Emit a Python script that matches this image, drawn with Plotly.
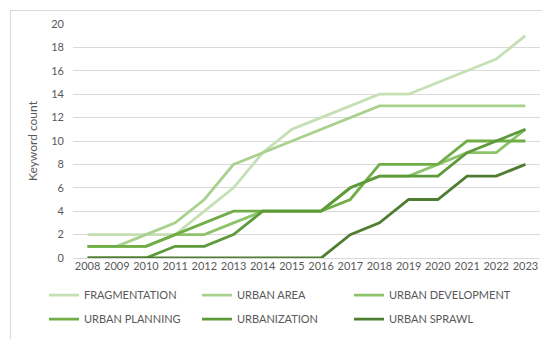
import plotly.graph_objects as go

years = [str(y) for y in range(2008, 2024)]
fragmentation = [2, 2, 2, 2, 4, 6, 9, 11, 12, 13, 14, 14, 15, 16, 17, 19]
urban_area = [1, 1, 2, 3, 5, 8, 9, 10, 11, 12, 13, 13, 13, 13, 13, 13]
urban_development = [1, 1, 1, 2, 2, 3, 4, 4, 4, 6, 7, 7, 8, 9, 9, 11]
urban_planning = [1, 1, 1, 2, 3, 4, 4, 4, 4, 5, 8, 8, 8, 10, 10, 10]
urbanization = [0, 0, 0, 1, 1, 2, 4, 4, 4, 6, 7, 7, 7, 9, 10, 11]
urban_sprawl = [0, 0, 0, 0, 0, 0, 0, 0, 0, 2, 3, 5, 5, 7, 7, 8]

series = [
    ("FRAGMENTATION", fragmentation, "#C5E0B4", "legend"),
    ("URBAN AREA", urban_area, "#A9D18E", "legend2"),
    ("URBAN DEVELOPMENT", urban_development, "#8DC46A", "legend3"),
    ("URBAN PLANNING", urban_planning, "#70AD47", "legend"),
    ("URBANIZATION", urbanization, "#5E9A3A", "legend2"),
    ("URBAN SPRAWL", urban_sprawl, "#4E7D31", "legend3"),
]

FONT = "Lato, 'Open Sans', sans-serif"
TXT = "#595959"

fig = go.Figure()
for name, vals, col, leg in series:
    fig.add_trace(go.Scatter(
        x=years, y=vals, name=name, mode="lines",
        line=dict(color=col, width=2.8),
        legend=leg, legendgroup=name,
    ))


def leg_cfg(xpx):
    return dict(
        orientation="v", xref="container", yref="container",
        x=xpx / 550, y=0.196, xanchor="left", yanchor="top",
        font=dict(size=11, color=TXT), tracegroupgap=5,
        bgcolor="rgba(0,0,0,0)", traceorder="grouped",
    )


fig.update_layout(
    width=550, height=339,
    margin=dict(l=65, r=18, t=16, b=89, autoexpand=False),
    paper_bgcolor="white", plot_bgcolor="white",
    font=dict(family=FONT, size=11, color=TXT),
    xaxis=dict(
        type="category", range=[-0.5, 15.5], showgrid=False,
        showline=False, ticks="", tickfont=dict(size=11, color=TXT),
        zeroline=False, automargin=False,
    ),
    yaxis=dict(
        range=[0, 20], dtick=2, showgrid=True, gridcolor="#D9D9D9",
        gridwidth=1, zeroline=True, zerolinecolor="#D9D9D9", zerolinewidth=1,
        showline=False, ticks="", ticklabelstandoff=8, automargin=False,
        tickfont=dict(size=11, color=TXT),
    ),
    annotations=[dict(
        text="Keyword count", xref="paper", yref="paper",
        x=(24 - 65) / 467, y=0.5, textangle=-90, showarrow=False,
        xanchor="center", yanchor="middle",
        font=dict(size=12, color=TXT),
    )],
    legend=leg_cfg(36),
    legend2=leg_cfg(189),
    legend3=leg_cfg(341),
    showlegend=True,
    shapes=[dict(
        type="rect", xref="paper", yref="paper",
        x0=(2.5 - 65) / 467, x1=(546.5 - 65) / 467,
        y0=(250 - 336.5) / 234, y1=(250 - 2.5) / 234,
        line=dict(color="#D9D9D9", width=1), fillcolor="rgba(0,0,0,0)",
        layer="below",
    )],
)

fig.write_html("out.html")
